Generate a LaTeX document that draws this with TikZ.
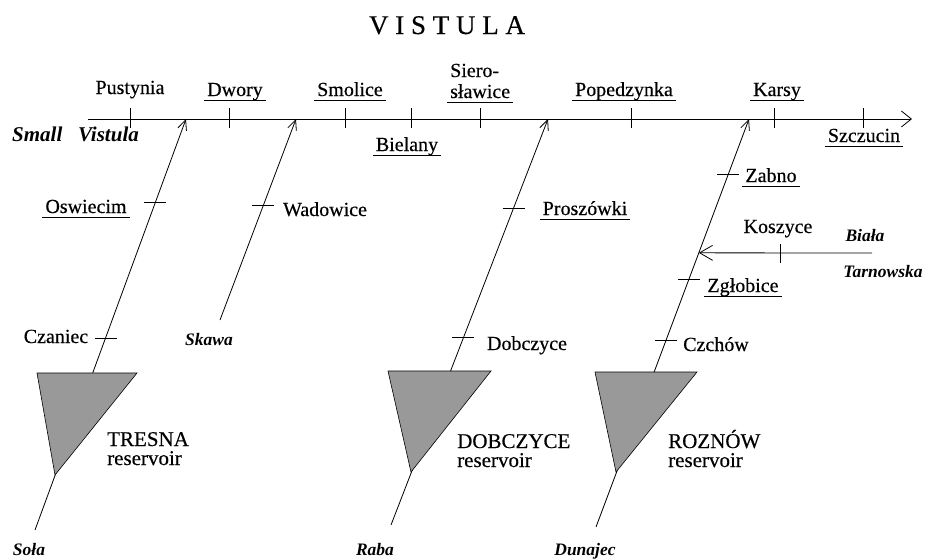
\documentclass[tikz,border=0pt]{standalone}
\usepackage{fontspec}
\setmainfont{Liberation Serif}[UprightFeatures={FakeBold=0.4}]
\usetikzlibrary{arrows.meta, positioning, calc}

% underlined place name
\newcommand{\rivul}[1]{\setbox0\hbox{#1}\makebox[0pt][l]{\hspace{-3pt}\rule[-5pt]{\dimexpr\wd0+6pt\relax}{0.8pt}}\box0}

\tikzset{
    river/.style={line width=0.8pt, -{Straight Barb[length=10pt, width=9pt]}},
    tick/.style={line width=0.8pt},
    town/.style={font=\fontsize{20}{18}\selectfont, inner sep=0pt, anchor=base},
    stream/.style={font=\fontsize{17.5}{17.5}\selectfont\bfseries\itshape, inner sep=0pt, anchor=base},
    dam/.style={draw, line width=0.6pt, fill=black!40},
    resname/.style={font=\fontsize{21}{19}\selectfont, inner sep=0pt, align=left, anchor=base west}
}

\begin{document}
\begin{tikzpicture}[x=1pt, y=-1pt]
    \useasboundingbox (0,0) rectangle (926,558);

    % Title
    \node[font=\fontsize{27}{27}\selectfont, inner sep=0pt, anchor=base] (title) at (447,34) {V I S T U L A};

    % Small Vistula main axis
    \coordinate (vstart) at (88,119);
    \coordinate (vend) at (912,119);
    \draw[line width=0.8pt, -{Straight Barb[length=10pt, width=16pt]}] (vstart) -- (vend);
    \foreach \x in {130,229,345,411,480,631,774,863} {
        \draw[tick] (\x,108) -- (\x,128);
    }
    \node[font=\fontsize{21}{21}\selectfont\bfseries\itshape, inner sep=0pt, anchor=base west] (small) at (12,141) {Small\ \ \ Vistula};

    % Gauges on the Vistula
    \node[town] (pustynia) at (130,94) {Pustynia};
    \node[town] (dwory) at (235,96) {\rivul{Dwory}};
    \node[town] (smolice) at (350,96) {\rivul{Smolice}};
    \node[town] (bielany) at (407,151) {\rivul{Bielany}};
    \node[town, font=\fontsize{20}{21}\selectfont, anchor=base west, align=left] (siero) at (450,98) {Siero-\\\rivul{sławice}};
    \node[town] (popedzynka) at (624,96) {\rivul{Popedzynka}};
    \node[town] (karsy) at (777,96) {\rivul{Karsy}};
    \node[town] (szczucin) at (864,142) {\rivul{Szczucin}};

    % Tributaries
    \coordinate (sola) at (35,530);
    \coordinate (solamouth) at (186,119);
    \coordinate (skawa) at (220,320);
    \coordinate (skawamouth) at (296,119);
    \coordinate (raba) at (391,525);
    \coordinate (rabamouth) at (548,119);
    \coordinate (dunajec) at (596,527);
    \coordinate (dunajecmouth) at (749,119);
    \coordinate (biala) at (872,253);

    \draw[river] (sola) -- (solamouth);
    \draw[river] (skawa) -- (skawamouth);
    \draw[river] (raba) -- (rabamouth);
    \draw[river] (dunajec) -- (dunajecmouth);

    % Gauge points along the tributaries
    \path (sola) -- (solamouth) coordinate[pos=0.796] (g1) coordinate[pos=0.467] (g2);
    \path (skawa) -- (skawamouth) coordinate[pos=0.572] (g3);
    \path (raba) -- (rabamouth) coordinate[pos=0.781] (g4) coordinate[pos=0.461] (g5);
    \path (dunajec) -- (dunajecmouth) coordinate[pos=0.865] (g6) coordinate[pos=0.608] (g7)
        coordinate[pos=0.458] (g8) coordinate[pos=0.672] (bjoin);
    \foreach \g in {g1,g2,g3,g4,g5,g6,g7,g8} {
        \draw[tick] ([xshift=-11pt]\g) -- ([xshift=11pt]\g);
    }

    % Biala Tarnowska
    \draw[line width=0.8pt, -{Straight Barb[length=13pt, width=15pt]}] (biala) -- (bjoin);
    \draw[tick] (780,244) -- (780,263);

    % Reservoirs
    \filldraw[dam] (37,373) -- (137,373) -- (55,475) -- cycle;
    \filldraw[dam] (388,371) -- (491,371) -- (411,472) -- cycle;
    \filldraw[dam] (595,372) -- (697,372) -- (616,472) -- cycle;
    \node[resname] (tresna) at (107,465) {TRESNA\\reservoir};
    \node[resname] (dobczyceres) at (457,467) {DOBCZYCE\\reservoir};
    \node[resname] (roznow) at (668,467) {ROZNÓW\\reservoir};

    % Gauge names
    \node[town] (oswiecim) at (86,213) {\rivul{Oswiecim}};
    \node[town] (czaniec) at (56,343) {Czaniec};
    \node[town] (wadowice) at (325,216) {Wadowice};
    \node[town] (proszowki) at (585,215) {\rivul{Proszówki}};
    \node[town] (dobczyce) at (527,350) {Dobczyce};
    \node[town] (zabno) at (771,182) {\rivul{Zabno}};
    \node[town] (koszyce) at (778,233) {Koszyce};
    \node[town] (zglobice) at (743,292) {\rivul{Zgłobice}};
    \node[town] (czchow) at (716,351) {Czchów};

    % River names
    \node[stream] (skawalbl) at (209,345) {Skawa};
    \node[stream] (bialalbl) at (865,241) {Biała};
    \node[stream] (tarnlbl) at (883,277) {Tarnowska};
    \node[stream] (solalbl) at (29,555) {Soła};
    \node[stream] (rabalbl) at (375,555) {Raba};
    \node[stream] (dunajeclbl) at (585,555) {Dunajec};
\end{tikzpicture}
\end{document}
